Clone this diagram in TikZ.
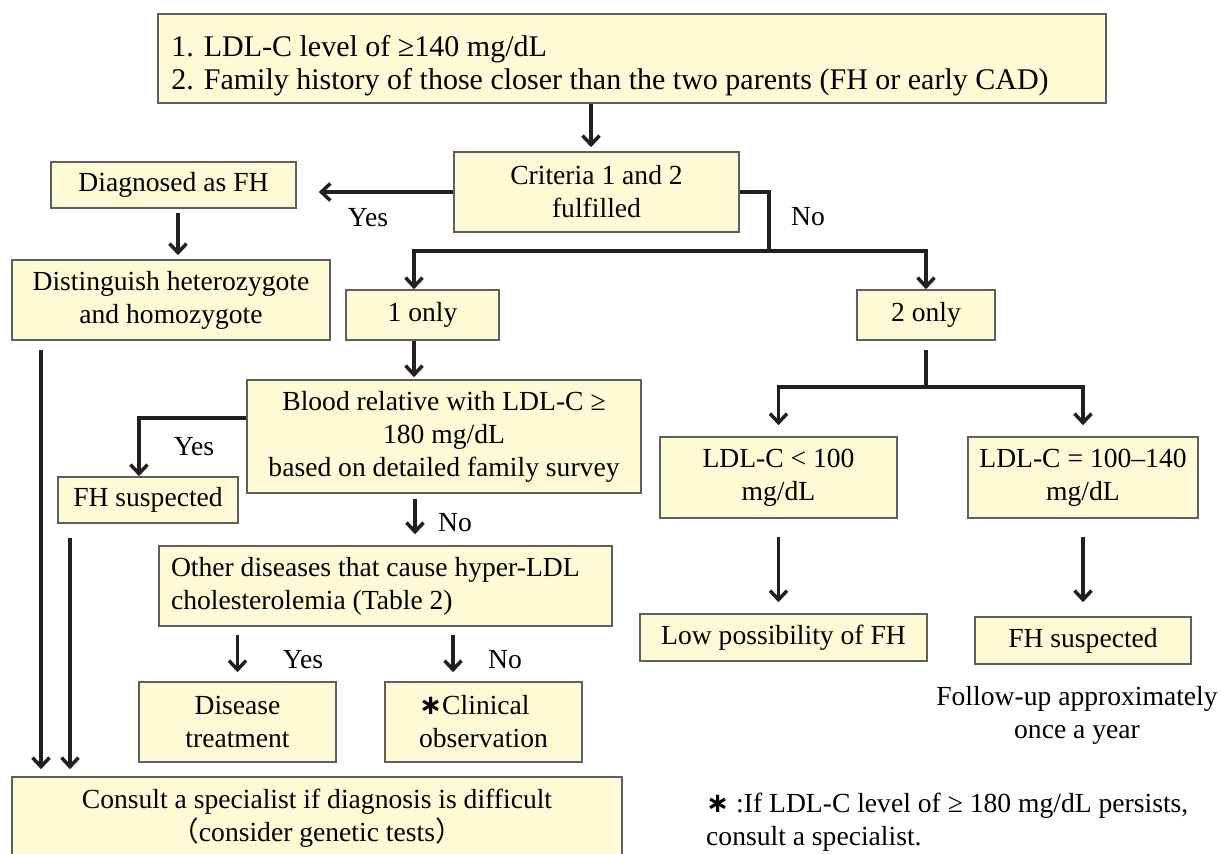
\documentclass[tikz,border=0pt]{standalone}
\usepackage{fontspec}
\setmainfont{Liberation Serif}
\newfontfamily\cjk{Noto Sans CJK JP}
\newfontfamily\astfont{DejaVu Sans}
\newcommand{\heavyast}{{\astfont\bfseries ∗}}
\usepackage{tikz}
\usetikzlibrary{arrows.meta,positioning,calc}
\definecolor{boxyellow}{RGB}{255,250,214}
\definecolor{boxgrey}{RGB}{95,95,95}
\definecolor{flowblack}{RGB}{35,31,32}

\begin{document}
\begin{tikzpicture}[
        x=1pt, y=-1pt,
        font=\fontsize{27.6}{33}\selectfont,
        >={Straight Barb[length=9pt,width=17pt]},
        box/.style 2 args={rectangle, draw=boxgrey, line width=1.6pt, fill=boxyellow, align=center, inner sep=2pt, minimum width=#1pt, minimum height=#2pt},
        flow/.style={draw=flowblack, line width=3.5pt},
        arr/.style={flow, ->},
        lbl/.style={inner sep=0pt}
    ]
        \clip (0,0) rectangle (1221,854);

        \node[box={948}{89}, align=left, font=\fontsize{30}{33}\selectfont] (criteria) at (632,58.5) {\rule{0pt}{35pt}1. LDL-C level of ≥140 mg/dL\\2. Family history of those closer than the two parents (FH or early CAD)\hspace*{44pt}};
        \node[box={285}{80}] (fulfil) at (596.5,192) {Criteria 1 and 2\\fulfilled};
        \node[box={245}{46}] (diag) at (173.5,185) {Diagnosed as FH};
        \node[box={318}{80}] (zyg) at (171,300) {Distinguish heterozygote\\and homozygote};
        \node[box={153}{50}] (only1) at (422.5,315) {1 only};
        \node[box={138}{50}] (only2) at (926,315) {2 only};
        \node[box={394}{113}] (relative) at (444,436.5) {Blood relative with LDL-C ≥\\180 mg/dL\\based on detailed family survey};
        \node[box={180}{46}] (susp1) at (148,500) {FH suspected};
        \node[box={453}{80}, align=flush left, text width=429pt] (other) at (385.5,586) {Other diseases that cause hyper-LDL\\cholesterolemia (Table 2)};
        \node[box={197}{80}] (treat) at (237.5,722) {Disease\\treatment};
        \node[box={197}{80}, align=left] (observe) at (483.5,722) {\heavyast Clinical\\observation};
        \node[box={237}{81}] (ldllow) at (778.5,477.5) {LDL-C < 100\\mg/dL};
        \node[box={230}{81}] (ldlmid) at (1083,477.5) {LDL-C = 100–140\\mg/dL};
        \node[box={287}{47}] (lowfh) at (783.5,637.5) {Low possibility of FH};
        \node[box={216}{47}] (susp2) at (1083,640.5) {FH suspected};
        \node[box={610}{82}] (consult) at (317,818) {Consult a specialist if diagnosis is difficult\\{\cjk （}consider genetic tests{\cjk ）}};

        \node[lbl] (yes1) at (368,218) {Yes};
        \node[lbl] (no1) at (808,217) {No};
        \node[lbl] (yes2) at (194,447) {Yes};
        \node[lbl] (no2) at (455,523) {No};
        \node[lbl] (yes3) at (303,660) {Yes};
        \node[lbl] (no3) at (505,660) {No};
        \node[lbl, align=center] (followup) at (1077,715) {Follow-up approximately\\once a year};
        \node[lbl, align=left, anchor=west] (note) at (706,822) {\heavyast\ :If LDL-C level of ≥ 180 mg/dL persists,\\consult a specialist.};

        \coordinate (nosplit) at (769,251);
        \coordinate (lowsplit) at (926,387);

        \draw[arr, shorten >=4pt] ([xshift=-5.5pt]fulfil.north |- criteria.south) -- ([xshift=-5.5pt]fulfil.north);
        \draw[arr, shorten >=22pt] (fulfil.west) -- (diag.east |- fulfil.west);
        \draw[flow] (fulfil.east) -| (nosplit);
        \draw[arr] (nosplit) -| ([xshift=-8.5pt]only1.north);
        \draw[arr] (nosplit) -| (only2.north);
        \draw[arr, shorten <=4pt, shorten >=4pt] ([xshift=4.5pt]diag.south) -- ([xshift=4.5pt]diag.south |- zyg.north);
        \draw[arr, shorten <=9pt, shorten >=7pt] ([xshift=-130pt]zyg.south) -- ([xshift=-130pt]zyg.south |- consult.north);
        \draw[arr, shorten >=2pt] ([xshift=-8.5pt]only1.south) -- ([xshift=-8.5pt]only1.south |- relative.north);
        \draw[arr] ([yshift=18.5pt]relative.west) -| ([xshift=-9pt]susp1.north);
        \draw[arr, shorten <=14pt, shorten >=7pt] ([xshift=-78pt]susp1.south) -- ([xshift=-78pt]susp1.south |- consult.north);
        \draw[arr, shorten <=5pt, shorten >=11pt] ([xshift=-29pt]relative.south) -- ([xshift=-29pt]relative.south |- other.north);
        \draw[arr, shorten <=8pt, shorten >=9pt] (treat.north |- other.south) -- (treat.north);
        \draw[arr, shorten <=8pt, shorten >=9pt] ([xshift=-30.5pt]observe.north |- other.south) -- ([xshift=-30.5pt]observe.north);
        \draw[flow, shorten <=9pt] (only2.south) -- (lowsplit);
        \draw[arr, shorten >=11pt] (lowsplit) -| (ldllow.north);
        \draw[arr, shorten >=11pt] (lowsplit) -| (ldlmid.north);
        \draw[arr, shorten <=18pt, shorten >=11pt] (ldllow.south) -- (ldllow.south |- lowfh.north);
        \draw[arr, shorten <=18pt, shorten >=14pt] (ldlmid.south) -- (ldlmid.south |- susp2.north);
    \end{tikzpicture}
\end{document}
